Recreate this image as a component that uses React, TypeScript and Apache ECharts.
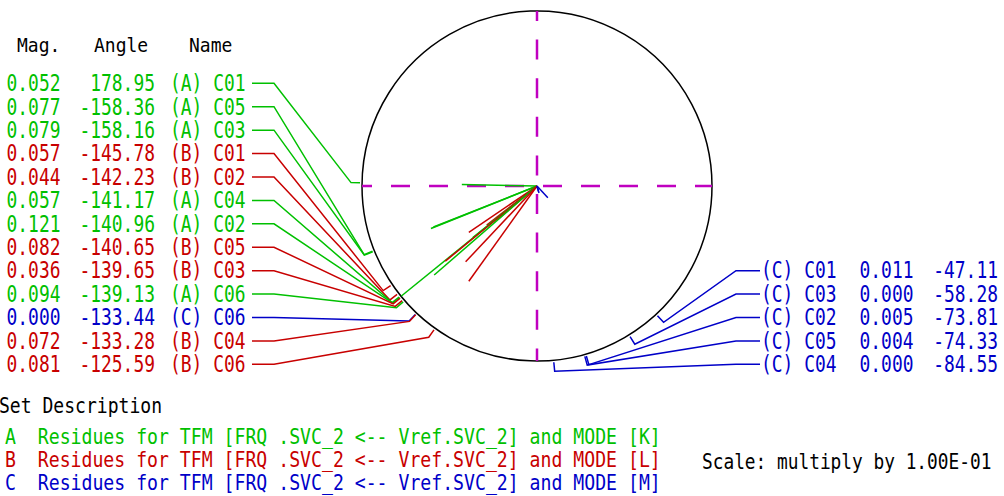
import React, { useEffect, useRef } from "react";
import * as echarts from "echarts";

// ---- data ----
const sets = ["A", "A", "A", "B", "B", "A", "A", "B", "B", "A", "C", "B", "B", "C", "C", "C", "C", "C"];
const names = ["C01", "C05", "C03", "C01", "C02", "C04", "C02", "C05", "C03", "C06", "C06", "C04", "C06", "C01", "C03", "C02", "C05", "C04"];
const mags = [0.052, 0.077, 0.079, 0.057, 0.044, 0.057, 0.121, 0.082, 0.036, 0.094, 0.0, 0.072, 0.081, 0.011, 0.0, 0.005, 0.004, 0.0];
const angles = [178.95, -158.36, -158.16, -145.78, -142.23, -141.17, -140.96, -140.65, -139.65, -139.13, -133.44, -133.28, -125.59, -47.11, -58.28, -73.81, -74.33, -84.55];
const setKeys = ["A", "B", "C"];
const setModes = ["K", "L", "M"];
const headers = ["Mag.", "Angle", "Name"];
const descTitle = "Set Description";
const scaleText = "Scale: multiply by 1.00E-01";

export default function App() {
  const ref = useRef<HTMLDivElement>(null);
  useEffect(() => {
    const el = ref.current!;
    const chart = echarts.init(el, null, { renderer: "svg" });
    const colors: Record<string, string> = { A: "#00c000", B: "#c80000", C: "#0000c8" };
    const MAGENTA = "#c000c0";
    const FONT = '"DejaVu Sans Mono", monospace';
    const cx = 537, cy = 186, radPx = 175;
    const R = Math.max(...mags);

    const series: any[] = [];
    series.push({
      type: "line", coordinateSystem: "polar", symbol: "none", clip: false, silent: true, z: 1,
      data: [[R, 180], [R, 0]],
      lineStyle: { color: MAGENTA, width: 2.5, type: [19, 19], dashOffset: 9 },
    });
    series.push({
      type: "line", coordinateSystem: "polar", symbol: "none", clip: false, silent: true, z: 1,
      data: [[R, 90], [R * 1.623, -90]],
      lineStyle: { color: MAGENTA, width: 2.5, type: [20, 18.6], dashOffset: 10 },
    });
    mags.forEach((m, i) => {
      series.push({
        type: "line", coordinateSystem: "polar", symbol: "none", clip: false, silent: true, z: 3,
        data: [[0, angles[i]], [m, angles[i]]],
        lineStyle: { color: colors[sets[i]], width: 1.5 },
      });
    });

    chart.setOption({
      animation: false,
      polar: { center: [cx, cy], radius: radPx },
      angleAxis: {
        type: "value", min: -180, max: 180, startAngle: 180, clockwise: false,
        axisLine: { show: true, lineStyle: { color: "#000", width: 1.5 } },
        axisTick: { show: false }, axisLabel: { show: false }, splitLine: { show: false },
      },
      radiusAxis: {
        type: "value", min: 0, max: R, show: false,
        axisLine: { show: false }, axisTick: { show: false }, axisLabel: { show: false }, splitLine: { show: false },
      },
      series,
    });

    const toPx = (r: number, a: number): number[] => {
      let p: any = null;
      try { p = chart.convertToPixel({ seriesIndex: 2 } as any, [r, a]); } catch (e) { p = null; }
      if (!p || isNaN(p[0])) {
        const t = (a * Math.PI) / 180;
        p = [cx + (r / R) * radPx * Math.cos(t), cy - (r / R) * radPx * Math.sin(t)];
      }
      return p;
    };

    const graphic: any[] = [];
    const txt = (text: string, x: number, y: number, fill: string, fs: number, sx: number, align = "left") => ({
      type: "text", x, y, scaleX: sx, z: 10,
      style: { text, fill, font: `${fs}px ${FONT}`, textAlign: align, textVerticalAlign: "middle", align, verticalAlign: "middle" },
    });

    const rowY = (k: number) => 83.3 + 23.42 * k;
    let leftRow = 0;
    let rightRow = 8;
    const FS = 23, SX = 0.78;
    mags.forEach((m, i) => {
      const col = colors[sets[i]];
      const a = angles[i];
      const center = toPx(0, a);
      const edge = toPx(R, a);
      const t = (a * Math.PI) / 180;
      const ux = Math.cos(t), uy = -Math.sin(t);
      const tin = [edge[0] + ux * 2, edge[1] + uy * 2];
      const tout = [edge[0] + ux * 11, edge[1] + uy * 11];
      void center;
      const isLeft = Math.cos(t) < 0;
      const label = `(${sets[i]}) ${names[i]}`;
      if (isLeft) {
        const y = rowY(leftRow++);
        graphic.push(txt(m.toFixed(3), 6.5, y, col, FS, SX, "left"));
        graphic.push(txt(a.toFixed(2), 155, y, col, FS, SX, "right"));
        graphic.push(txt(label, 170, y, col, FS, SX, "left"));
        graphic.push({
          type: "polyline", z: 2, shape: { points: [[252, y], [274, y], tout, tin] },
          style: { stroke: col, lineWidth: 1.5, fill: null },
        });
      } else {
        const y = rowY(rightRow++);
        graphic.push(txt(label, 761, y, col, FS, SX, "left"));
        graphic.push(txt(m.toFixed(3), 859.5, y, col, FS, SX, "left"));
        graphic.push(txt(a.toFixed(2), 998, y, col, FS, SX, "right"));
        graphic.push({
          type: "polyline", z: 2, shape: { points: [[760, y], [736, y], tout, tin] },
          style: { stroke: col, lineWidth: 1.5, fill: null },
        });
      }
    });

    graphic.push(txt(headers[0], 17, 45, "#000", 20, 0.9));
    graphic.push(txt(headers[1], 94, 45, "#000", 20, 0.9));
    graphic.push(txt(headers[2], 189, 45, "#000", 20, 0.9));
    graphic.push(txt(descTitle, -1, 406.5, "#000", 21, 0.86));
    setKeys.forEach((k, j) => {
      graphic.push(
        txt(`${k}  Residues for TFM [FRQ .SVC_2 <-- Vref.SVC_2] and MODE [${setModes[j]}]`, 5, 436 + 23 * j, colors[k], 22, 0.826)
      );
    });
    graphic.push(txt(scaleText, 702, 461, "#000", 22, 0.81));

    chart.setOption({ graphic });
    return () => chart.dispose();
  }, []);
  return <div ref={ref} style={{ position: "absolute", left: 0, top: 0, width: 1004, height: 496, background: "#fff" }} />;
}
